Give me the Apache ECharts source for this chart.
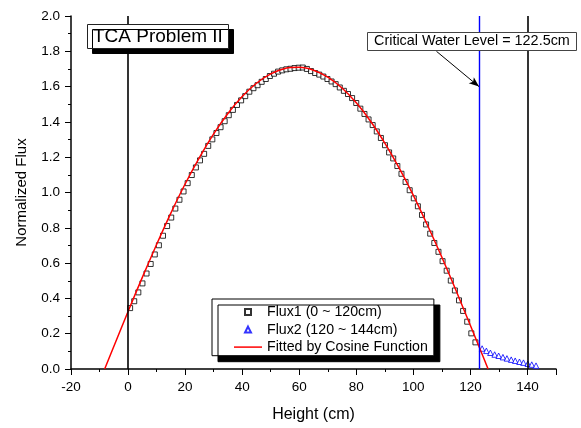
<!DOCTYPE html>
<html>
<head>
<meta charset="utf-8">
<script src="https://cdn.jsdelivr.net/npm/echarts@6/dist/echarts.min.js"></script>
<style>html,body{margin:0;padding:0;background:#fff;}#c{width:581px;height:428px;}</style>
</head>
<body>
<div id="c"></div>
<script>
// ---- data ----
const heights1 = [0.72,2.16,3.60,5.04,6.48,7.93,9.37,10.81,12.25,13.69,15.13,16.57,18.01,19.45,20.89,22.34,23.78,25.22,26.66,28.10,29.54,30.98,32.42,33.86,35.30,36.75,38.19,39.63,41.07,42.51,43.95,45.39,46.83,48.27,49.71,51.16,52.60,54.04,55.48,56.92,58.36,59.80,61.24,62.68,64.12,65.57,67.01,68.45,69.89,71.33,72.77,74.21,75.65,77.09,78.53,79.98,81.42,82.86,84.30,85.74,87.18,88.62,90.06,91.50,92.94,94.39,95.83,97.27,98.71,100.15,101.59,103.03,104.47,105.91,107.35,108.80,110.24,111.68,113.12,114.56,116.00,117.44,118.88,120.32,121.76];
const flux1 = [0.345,0.384,0.434,0.485,0.541,0.595,0.649,0.701,0.755,0.810,0.858,0.909,0.959,1.006,1.053,1.099,1.142,1.182,1.219,1.264,1.301,1.337,1.370,1.404,1.438,1.468,1.496,1.522,1.546,1.571,1.591,1.608,1.627,1.643,1.660,1.673,1.685,1.692,1.698,1.701,1.705,1.707,1.708,1.700,1.688,1.677,1.668,1.657,1.643,1.629,1.614,1.595,1.576,1.558,1.535,1.507,1.475,1.445,1.414,1.382,1.346,1.309,1.268,1.227,1.193,1.150,1.106,1.060,1.013,0.967,0.922,0.873,0.819,0.767,0.714,0.664,0.611,0.557,0.501,0.445,0.389,0.329,0.268,0.202,0.151];
const heights2 = [124.1,125.6,127.0,128.5,129.9,131.4,132.8,134.3,135.7,137.2,138.6,140.1,141.5,143.0];
const flux2 = [0.116,0.103,0.092,0.082,0.075,0.067,0.060,0.053,0.047,0.041,0.036,0.030,0.025,0.019];
const fitX = [-8.2,-5,0,5,10,15,20,25,30,35,40,45,50,55,60,65,70,75,80,85,90,95,100,105,110,115,120,125,126.2];
const fitY = [0,0.128,0.326,0.519,0.705,0.883,1.048,1.198,1.332,1.448,1.544,1.619,1.672,1.703,1.709,1.693,1.654,1.592,1.508,1.404,1.280,1.139,0.984,0.813,0.633,0.443,0.246,0.048,0];
const seriesNames = ['Flux1 (0 ~ 120cm)','Flux2 (120 ~ 144cm)','Fitted by Cosine Function'];
const verticalLines = [0, 123, 140];   // x positions of reference lines
const waterLevelLabel = 'Critical Water Level = 122.5cm';
const arrowFrom = [108.1, 1.80];
const arrowTo = [123, 1.60];
const xMin = -20, xMax = 150, xStep = 20;
const yMin = 0, yMax = 2.0, yStep = 0.2;

const FONT = '"Liberation Sans", Arial, sans-serif';
const zip = (a, b) => a.map((v, i) => [v, b[i]]);

const chart = echarts.init(document.getElementById('c'), null, {renderer: 'canvas'});
chart.setOption({
  animation: false,
  backgroundColor: '#fff',
  textStyle: {fontFamily: FONT, color: '#000'},
  title: [{
    text: 'TCA Problem II',
    left: 87, top: 24,
    padding: [3, 6, 3, 6],
    backgroundColor: '#fff',
    borderColor: '#222', borderWidth: 1,
    shadowColor: '#000', shadowBlur: 0, shadowOffsetX: 5, shadowOffsetY: 5,
    textStyle: {fontFamily: FONT, fontSize: 19, fontWeight: 'normal', color: '#000', lineHeight: 19}
  }, {
    text: waterLevelLabel,
    left: 367, top: 32,
    padding: [2, 7, 2, 7],
    backgroundColor: '#fff',
    borderColor: '#444', borderWidth: 1,
    textStyle: {fontFamily: FONT, fontSize: 14.4, fontWeight: 'normal', color: '#000', lineHeight: 14.4}
  }],
  legend: {
    orient: 'vertical',
    left: 212, top: 299,
    padding: [6, 6, 1.5, 22],
    itemWidth: 28, itemHeight: 6,
    itemGap: 3.3,
    symbolKeepAspect: true,
    backgroundColor: '#fff',
    borderColor: '#000', borderWidth: 1,
    shadowColor: '#000', shadowBlur: 0, shadowOffsetX: 6, shadowOffsetY: 6,
    textStyle: {fontFamily: FONT, fontSize: 14.2, color: '#000', lineHeight: 14.2},
    data: [
      {name: seriesNames[0], icon: 'path://M0,0L1,0L1,1L0,1Z'},
      {name: seriesNames[1], icon: 'path://M0.5,0L1,1L0,1Z'},
      {name: seriesNames[2], icon: 'path://M0,0L28,0L28,1.5L0,1.5Z',
       itemStyle: {color: '#ff0000', borderWidth: 0}}
    ]
  },
  grid: {left: 71, right: 25, top: 16, bottom: 55, containLabel: false},
  xAxis: {
    type: 'value', min: xMin, max: xMax, interval: xStep,
    name: 'Height (cm)', nameLocation: 'middle', nameGap: 38,
    nameTextStyle: {fontFamily: FONT, fontSize: 16, color: '#000'},
    axisLine: {show: true, onZero: false, lineStyle: {color: '#000', width: 1.5}},
    axisTick: {show: true, inside: false, length: 6, lineStyle: {color: '#000', width: 1}},
    minorTick: {show: true, splitNumber: 2, length: 3, lineStyle: {color: '#000', width: 1}},
    axisLabel: {fontFamily: FONT, fontSize: 13.5, color: '#000', margin: 11, showMaxLabel: false},
    splitLine: {show: false}
  },
  yAxis: {
    type: 'value', min: yMin, max: yMax, interval: yStep,
    name: 'Normalized Flux', nameLocation: 'middle', nameGap: 42,
    nameTextStyle: {fontFamily: FONT, fontSize: 15, color: '#000'},
    axisLine: {show: true, onZero: false, lineStyle: {color: '#000', width: 1.5}},
    axisTick: {show: true, inside: false, length: 6, lineStyle: {color: '#000', width: 1}},
    minorTick: {show: true, splitNumber: 2, length: 3, lineStyle: {color: '#000', width: 1}},
    axisLabel: {fontFamily: FONT, fontSize: 13.5, color: '#000', margin: 11,
      formatter: v => v.toFixed(1)},
    splitLine: {show: false}
  },
  series: [{
    name: seriesNames[0], type: 'scatter',
    data: zip(heights1, flux1),
    symbol: 'rect', symbolSize: 5,
    itemStyle: {color: '#fff', borderColor: '#000', borderWidth: 1},
    z: 3
  }, {
    name: seriesNames[1], type: 'scatter',
    data: zip(heights2, flux2),
    symbol: 'triangle', symbolSize: 5.5,
    itemStyle: {color: '#fff', borderColor: '#0000ff', borderWidth: 1},
    z: 3
  }, {
    name: seriesNames[2], type: 'line',
    data: zip(fitX, fitY),
    smooth: 0.3, showSymbol: false, symbol: 'none',
    lineStyle: {color: '#ff0000', width: 1.5},
    itemStyle: {color: '#ff0000'},
    clip: true,
    z: 4
  }, {
    name: 'refs', type: 'line', data: [],
    z: 5,
    markLine: {
      silent: true, animation: false,
      symbol: ['none', 'none'],
      label: {show: false},
      data: [
        {xAxis: verticalLines[0], lineStyle: {color: '#000', width: 1.6, type: 'solid'}},
        {xAxis: verticalLines[1], lineStyle: {color: '#0000ff', width: 1.4, type: 'solid'}},
        {xAxis: verticalLines[2], lineStyle: {color: '#000', width: 1.6, type: 'solid'}},
        [{coord: arrowFrom, symbol: 'none'},
         {coord: arrowTo, symbol: 'arrow', symbolSize: [6, 10], lineStyle: {color: '#000', width: 1, type: 'solid'}}]
      ]
    }
  }]
});
</script>
</body>
</html>
